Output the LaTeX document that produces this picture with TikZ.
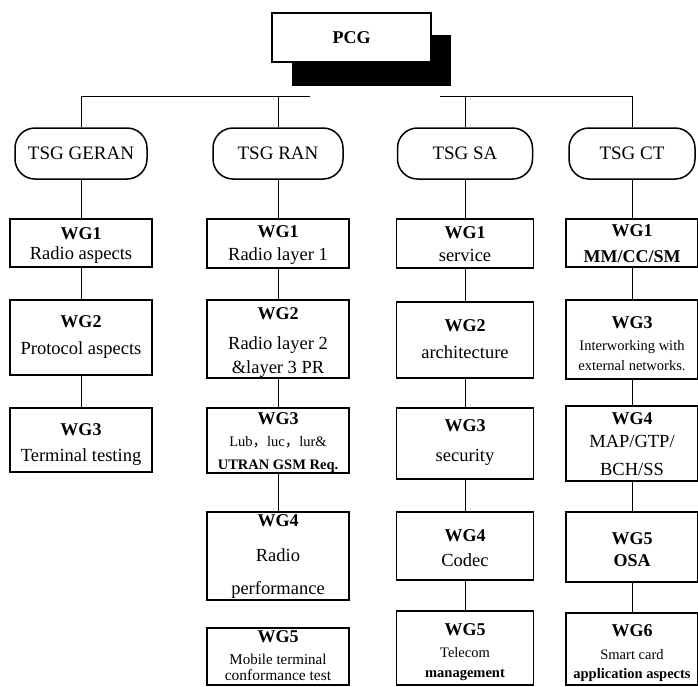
\documentclass[tikz,border=0pt]{standalone}
\usepackage{fontspec}
\setmainfont{Liberation Serif}
\newfontfamily\cjk{Noto Sans CJK SC}
% title line of a working-group box
\newcommand{\wgt}[1]{{\fontsize{18}{20}\selectfont\bfseries #1}}
% smaller description text
\newcommand{\smalltxt}{\fontsize{14.5}{16}\selectfont}
\begin{document}
\begin{tikzpicture}[x=1pt,y=-1pt,
  box/.style={draw, line width=1.8pt, fill=white, inner sep=0pt},
  lbl/.style={inner sep=0pt, align=center, font=\fontsize{18.5}{20}\selectfont},
  tsg/.style={draw, line width=1.5pt, rounded corners=20pt, inner sep=0pt,
              minimum height=51pt, font=\fontsize{19}{22}\selectfont},
  conn/.style={line width=1pt},
  colG/.style={minimum width=142pt},
  colR/.style={minimum width=142pt},
  colS/.style={minimum width=137pt},
  colC/.style={minimum width=132pt}]
\useasboundingbox (0,0) rectangle (698,686);

% top-level group with drop shadow
\node[fill=black, minimum width=159pt, minimum height=51pt, inner sep=0pt] (pcgshadow) at (371.5,60.5) {};
\node[draw, line width=1.2pt, fill=white, minimum width=159pt, minimum height=49pt, inner sep=0pt,
      font=\fontsize{18}{20}\selectfont\bfseries] (pcg) at (351.5,37.5) {PCG};

% technical specification groups
\node[tsg, minimum width=132pt] (tsgg) at (81,153.5) {TSG GERAN};
\node[tsg, minimum width=130pt] (tsgr) at (278,153.5) {TSG RAN};
\node[tsg, minimum width=135pt] (tsgs) at (465,153.5) {TSG SA};
\node[tsg, minimum width=126pt] (tsgc) at (632,153.5) {TSG CT};

% bus line linking the groups
\coordinate (gapL) at (310,96);
\coordinate (gapR) at (440,96);
\draw[conn] (tsgg.north) |- (gapL);
\draw[conn] (gapR) -| (tsgc.north);
\draw[conn] (tsgr.north) -- (tsgr.north |- gapL);
\draw[conn] (tsgs.north) -- (tsgs.north |- gapR);

% GERAN working groups
\node[box, colG, minimum height=48pt] (g1) at (81,243) {};
\node[lbl, yshift=-3pt] (g1t) at (g1) {\wgt{WG1}\\Radio aspects};
\node[box, colG, minimum height=75pt] (g2) at (81,337.5) {};
\node[lbl] (g2t) at (g2) {\wgt{WG2}\\[7pt]Protocol aspects};
\node[box, colG, minimum height=64pt] (g3) at (81,440) {};
\node[lbl, yshift=-5pt] (g3t) at (g3) {\wgt{WG3}\\[6pt]Terminal testing};

% RAN working groups
\node[box, colR, minimum height=49pt] (r1) at (278,243.5) {};
\node[lbl, yshift=-2pt] (r1t) at (r1) {\wgt{WG1}\\[3pt]Radio layer 1};
\node[box, colR, minimum height=78pt] (r2) at (278,339) {};
\node[lbl, yshift=-4pt] (r2t) at (r2) {\wgt{WG2}\\[10pt]Radio layer 2\\[4pt]\&layer 3 PR};
\node[box, colR, minimum height=65pt] (r3) at (278,440.5) {};
\node[lbl, yshift=-2pt] (r3t) at (r3) {\wgt{WG3}\\[2pt]{\smalltxt Lub{\cjk ，}luc{\cjk ，}lur\&}\\[3pt]{\smalltxt\bfseries UTRAN GSM Req.}};
\node[box, colR, minimum height=88pt] (r4) at (278,556) {};
\node[lbl] (r4t) at (r4) {\wgt{WG4}\\[15pt]Radio\\[13pt]performance};
\node[box, colR, minimum height=57pt] (r5) at (278,656.5) {};
\node[lbl, yshift=1pt] (r5t) at (r5) {\wgt{WG5}\\[2pt]{\fontsize{15}{16}\selectfont Mobile terminal}\\[-4pt]{\fontsize{15.5}{16}\selectfont conformance test}};

% SA working groups
\node[box, colS, minimum height=49pt] (s1) at (465,243.5) {};
\node[lbl, yshift=-1pt] (s1t) at (s1) {\wgt{WG1}\\[3pt]service};
\node[box, colS, minimum height=76pt] (s2) at (465,340) {};
\node[lbl, yshift=1pt] (s2t) at (s2) {\wgt{WG2}\\[7pt]architecture};
\node[box, colS, minimum height=71pt] (s3) at (465,443.5) {};
\node[lbl, yshift=1pt] (s3t) at (s3) {\wgt{WG3}\\[10pt]security};
\node[box, colS, minimum height=68pt] (s4) at (465,546) {};
\node[lbl, yshift=-2.5pt] (s4t) at (s4) {\wgt{WG4}\\[5pt]Codec};
\node[box, colS, minimum height=74pt] (s5) at (465,648) {};
\node[lbl, yshift=-4pt] (s5t) at (s5) {\wgt{WG5}\\[2pt]{\smalltxt Telecom}\\[0pt]{\smalltxt\bfseries management}};

% CT working groups
\node[box, colC, minimum height=48pt] (c1) at (632,243) {};
\node[lbl, yshift=-1pt] (c1t) at (c1) {\wgt{WG1}\\[6pt]\wgt{MM/CC/SM}};
\node[box, colC, minimum height=79pt] (c3) at (632,339.5) {};
\node[lbl, yshift=-4pt] (c3t) at (c3) {\wgt{WG3}\\[2pt]{\smalltxt Interworking with}\\[0pt]{\smalltxt external networks.}};
\node[box, colC, minimum height=75pt] (c4) at (632,443.5) {};
\node[lbl, yshift=-1pt] (c4t) at (c4) {\wgt{WG4}\\[3pt]MAP/GTP/\\[8pt]BCH/SS};
\node[box, colC, minimum height=70pt] (c5) at (632,547) {};
\node[lbl, yshift=-3pt] (c5t) at (c5) {\wgt{WG5}\\[2pt]\wgt{OSA}};
\node[box, colC, minimum height=72pt] (c6) at (632,649) {};
\node[lbl, yshift=-4pt] (c6t) at (c6) {\wgt{WG6}\\[3pt]{\smalltxt Smart card}\\[-1pt]{\smalltxt\bfseries application aspects}};

% connectors inside each column
\draw[conn] (tsgg.south) -- (g1.north);
\draw[conn] (g1.south) -- (g2.north);
\draw[conn] (g2.south) -- (g3.north);

\draw[conn] (tsgr.south) -- (r1.north);
\draw[conn] (r1.south) -- (r2.north);
\draw[conn] (r2.south) -- (r3.north);
\draw[conn] (r3.south) -- (r4.north);

\draw[conn] (tsgs.south) -- (s1.north);
\draw[conn] (s1.south) -- (s2.north);
\draw[conn] (s2.south) -- (s3.north);
\draw[conn] (s3.south) -- (s4.north);
\draw[conn] (s4.south) -- (s5.north);

\draw[conn] (tsgc.south) -- (c1.north);
\draw[conn] (c1.south) -- (c3.north);
\draw[conn] (c3.south) -- (c4.north);
\draw[conn] (c4.south) -- (c5.north);
\draw[conn] (c5.south) -- (c6.north);
\end{tikzpicture}
\end{document}
